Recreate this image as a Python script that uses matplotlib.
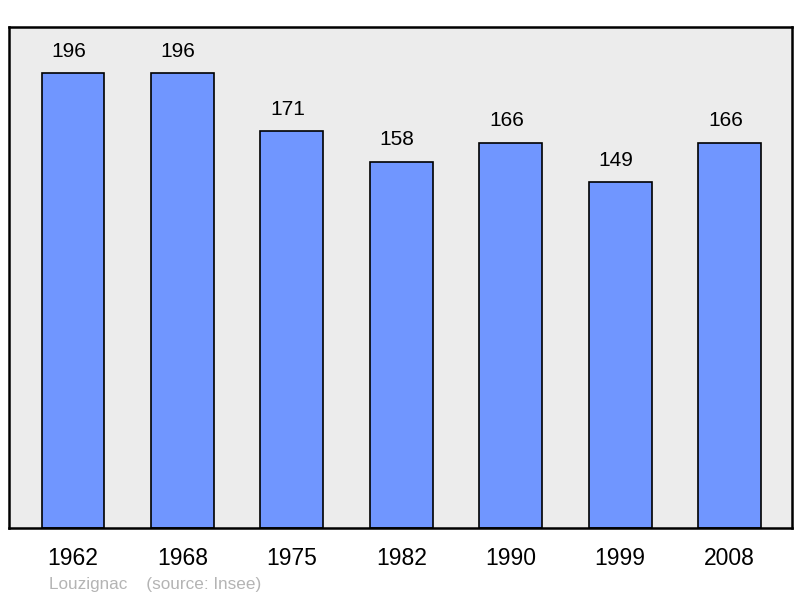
import matplotlib.pyplot as plt
import numpy as np

years = ['1962', '1968', '1975', '1982', '1990', '1999', '2008']
population = [196, 196, 171, 158, 166, 149, 166]

plt.rcParams['font.family'] = ['Liberation Sans', 'DejaVu Sans']

fig = plt.figure(figsize=(8, 5.98), dpi=100)
ax = fig.add_axes([9 / 800, 70 / 598, 783 / 800, 501 / 598])
ax.set_facecolor('#ececec')

x_pos = np.arange(len(years))
ax.bar(x_pos, population, width=0.575, color='#7096ff', edgecolor='black', linewidth=1.2, zorder=2)
for x, v in zip(x_pos, population):
    ax.annotate(str(v), (x, v), xytext=(-3, 9), textcoords='offset points',
                ha='center', va='bottom', fontsize=15)

ax.set_xlim(-0.585, 6.57)
ax.set_ylim(0, 216)
ax.set_yticks([])
ax.set_xticks(x_pos)
ax.set_xticklabels(years, fontsize=16.5)
ax.tick_params(axis='x', length=0, pad=14)
for s in ax.spines.values():
    s.set_linewidth(1.8)

fig.text(49 / 800, 1 - 585 / 598, 'Louzignac    (source: Insee)', color='#b4b4b4',
         fontsize=12.3, va='center', ha='left')

fig.savefig('out.png', dpi=100)
